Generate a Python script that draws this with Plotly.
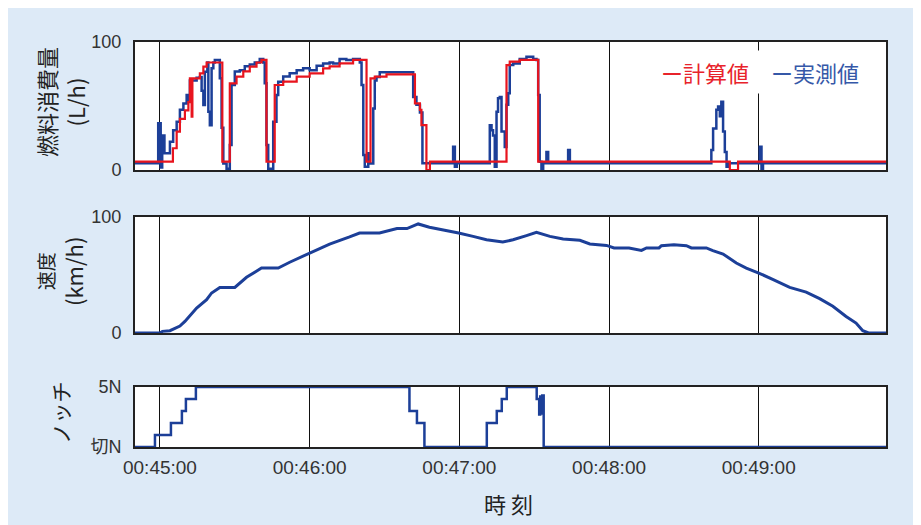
import pandas as pd
import plotly.graph_objects as go
from plotly.subplots import make_subplots

BASE = pd.Timestamp("2000-01-01 00:45:00")

# ---- data (seconds relative to 00:45:00) ----
fuel_calc_t = [-10, 5.2, 6.7, 8, 10, 11.4, 12, 12.7, 13, 16, 17.4, 18.7, 25, 28, 30.7, 33.4, 36, 38.7,
               40.7, 42.7, 46, 49.4, 54.8, 60, 65.4, 68, 72, 77.4, 82.8, 84.4, 86.1, 90.8, 102.2, 104.2,
               104.8, 106.8, 108.2, 138.9, 140.2, 144.2, 151.6, 228.4, 231.7, 291]
fuel_calc_v = [6.5, 17, 30, 40, 46.6, 53, 71.6, 41.6, 71.6, 75.5, 80.7, 84, 6.5, 67.7, 73, 77, 80.7, 84,
               86, 6.5, 66.4, 69, 73, 75.5, 79.4, 81, 83.3, 86, 6.5, 71.6, 73, 74.7, 52, 47,
               35, 0, 6.5, 82, 84.6, 86, 6.5, 0, 6.5, 6.5]

fuel_meas_t = [-10, -0.7, 0.3, 0.9, 1.3, 1.8, 4, 5.3, 6.7, 8, 9.4, 10.7, 11.4, 12, 14.7, 16, 16.7, 17.4,
               18, 19, 19.4, 20, 20.7, 21.4, 22, 24, 24.7, 25.4, 26.7, 28, 28.7, 30, 32, 34, 36, 38, 40,
               41.4, 42, 42.7, 43.4, 45.4, 46.7, 47.4, 49.4, 52, 54.8, 57.4, 60, 62.8, 65.4, 68, 69.4,
               72, 74.7, 77.4, 80.1, 80.8, 81.5, 82.1, 83.5, 84.1, 85.5, 86.1, 86.8, 88.1, 97.5, 101.5,
               102.8, 104.2, 105.2, 117.5, 118.2, 119, 132.2, 132.9, 133.5, 134.2, 134.9, 135.5, 136.2,
               136.9, 138.2, 138.9, 139.6, 140.2, 141.6, 144.2, 146.9, 149.6, 150.9, 151.6, 152.2,
               152.9, 153.6, 154.9, 155.6, 163.6, 164.3, 221, 221.7, 223, 223.7, 224.4, 225, 225.7,
               226.4, 227.1, 227.7, 240.4, 241.1, 241.7, 291]
fuel_meas_v = [5.2, 36.5, 2, 13, 27, 13, 22, 31, 37.7, 47, 52, 58.6, 54, 70, 72, 72.7, 62, 50.8,
               76.8, 84, 45.6, 35, 79.4, 84, 86, 71.6, 33, 5, 1, 19.5, 66.4, 77, 78, 81, 82.5, 84, 86.7,
               84, 67.7, 19.5, 1, 37.7, 58.6, 69, 73, 75.5, 78, 79.4, 78, 81.5, 83.3, 84, 83.3,
               86.7, 86, 86.7, 84, 66.4, 11.7, 2.6, 13, 5, 48, 70, 72.7, 76.3, 76.3, 57,
               51, 45, 5.2, 18.2, 2.6, 5.2, 35, 31, 27, 2.6, 45.6, 56, 57,
               30, 18, 51, 60, 82, 83.3, 86.7, 88.5, 86.7, 86, 58.6, 6.5,
               1, 5.2, 14, 5.2, 15.6, 5.2, 15.6, 32.5, 47, 49.6, 42, 53.4, 30,
               14, 2.6, 5.2, 18.2, 1, 5.2, 5.2]

speed_t = [-10, 0, 1, 4, 8, 10, 14.7, 18.7, 20.7, 24, 30, 34.7, 40.7, 47.4, 52, 60, 68, 76, 80, 88, 92,
           95, 99, 103.5, 108, 114.7, 119.7, 125.5, 130.9, 137.4, 141.5, 146.9, 150.9, 156.3, 161.6,
           168.3, 172.3, 179, 182, 188, 193, 195, 200, 201, 206, 211, 213, 219, 221.6, 225.7, 231, 235,
           240, 245.8, 252.4, 259, 264.4, 269.7, 275, 279, 281.7, 284, 291]
speed_v = [0, 0, 1.4, 2, 6, 10, 21.5, 28.7, 34.5, 39.3, 39.3, 48, 56, 56, 61, 69, 76.7, 82.8, 86.2, 86.2,
           88.5, 90, 90, 94, 91.2, 88.5, 86.2, 83.3, 80.4, 78.4, 80.4, 83.9, 86.7, 83.3, 81,
           79.9, 76.7, 75.5, 73.3, 73.3, 71.2, 73.3, 73.3, 75.3, 76, 75.3, 73.3, 73.3, 71, 68.1, 60.3, 56,
           51.7, 46, 39.3, 35.3, 29.6, 23, 14.3, 8.6, 2, 0, 0]

notch_t = [-10, -2, 4.4, 8.8, 10.4, 14.4, 100, 103, 106, 131, 135, 137, 139, 151, 152, 152.4, 152.8,
           153.2, 153.8, 291]
notch_v = [0, 1, 2, 3, 4, 5, 3, 2, 0, 2, 3, 4, 5, 4, 2.7, 4.2, 2.8, 4.3, 0, 0]

notch_ticks = [0, 5]
notch_ticklabels = ["切N", "5N"]
minute_ticks = ["00:45:00", "00:46:00", "00:47:00", "00:48:00", "00:49:00"]


def ts(sec_list):
    return [BASE + pd.Timedelta(seconds=s) for s in sec_list]


RED = "#e8141e"
BLUE = "#1c3f98"
OFF = 8                      # page body margin
W, H = 921 - OFF, 525 - OFF
L, R, T, B = 135, 886, 42, 447   # screen coordinates of the plot frame


def px(x):
    return (x - L) / (R - L)


def py(y):
    return (B - y) / (B - T)


fig = make_subplots(rows=3, cols=1, shared_xaxes=True)

fig.add_trace(go.Scatter(x=ts(fuel_meas_t), y=fuel_meas_v, mode="lines", line=dict(color=BLUE, width=2.5, shape="hv"),
                         name="実測値"), row=1, col=1)
fig.add_trace(go.Scatter(x=ts(fuel_calc_t), y=fuel_calc_v, mode="lines", line=dict(color=RED, width=2.2, shape="hv"),
                         name="計算値"), row=1, col=1)
fig.add_trace(go.Scatter(x=ts(speed_t), y=speed_v, mode="lines", line=dict(color=BLUE, width=3),
                         name="速度"), row=2, col=1)
fig.add_trace(go.Scatter(x=ts(notch_t), y=notch_v, mode="lines", line=dict(color=BLUE, width=2.5, shape="hv"),
                         name="ノッチ"), row=3, col=1)

tickfont = dict(family="Liberation Sans, Arial", size=19, color="#333")
ytickfont = dict(family="Liberation Sans, Arial, Noto Sans CJK JP", size=18, color="#333")

xr = [BASE + pd.Timedelta(seconds=-10), BASE + pd.Timedelta(seconds=291)]
for i in (1, 2, 3):
    fig.update_xaxes(row=i, col=1, type="date", range=xr, tickmode="array",
                     tickvals=ts([0, 60, 120, 180, 240]), ticktext=minute_ticks,
                     showgrid=True, gridcolor="#111", gridwidth=1,
                     showline=True, mirror=True, linecolor="#222", linewidth=2,
                     ticks="", zeroline=False, tickfont=tickfont,
                     showticklabels=(i == 3), ticklabelstandoff=2)

doms = [[py(170), py(42)], [py(333), py(217)], [py(447), py(387)]]
for i, d in enumerate(doms, start=1):
    fig.update_yaxes(row=i, col=1, domain=d, showgrid=False, zeroline=False,
                     showline=True, mirror=True, linecolor="#222", linewidth=2,
                     ticks="", tickfont=ytickfont, ticklabelstandoff=8)
fig.update_yaxes(row=1, col=1, range=[0, 100], tickvals=[0, 100], ticktext=["0", "100"])
fig.update_yaxes(row=2, col=1, range=[0, 100], tickvals=[0, 100], ticktext=["0", "100"])
fig.update_yaxes(row=3, col=1, range=[0, 5], tickvals=notch_ticks, ticktext=notch_ticklabels)

cjk = "Noto Sans CJK JP, Liberation Sans"
ann = [
    dict(x=px(60), y=py(102), text="燃料消費量<br>(L/h)", textangle=-90, font=dict(family=cjk, size=22, color="#222")),
    dict(x=px(60), y=py(272), text="<span style='font-size:19px'>速度</span><br>(km/h)", textangle=-90,
         font=dict(family=cjk, size=22, color="#222")),
    dict(x=px(60), y=py(413), text="ノッチ", textangle=-90, font=dict(family=cjk, size=21, color="#222")),
    dict(x=px(508), y=py(503), text="時 刻", font=dict(family=cjk, size=22, color="#222")),
    dict(x=px(760), y=py(72),
         text="<span style='color:#e8232b'>ー計算値</span>　<span style='color:#3558a8'>ー実測値</span>",
         font=dict(family=cjk, size=22), bgcolor="white", borderpad=5),
]
for a in ann:
    a.update(xref="paper", yref="paper", showarrow=False, xanchor="center", yanchor="middle")
fig.update_layout(annotations=ann)

fig.update_layout(width=W, height=H, margin=dict(l=L - OFF, r=(W + OFF) - R, t=T - OFF, b=(H + OFF) - B),
                  paper_bgcolor="#ddeaf7", plot_bgcolor="white", showlegend=False)

fig.write_html("out.html")
